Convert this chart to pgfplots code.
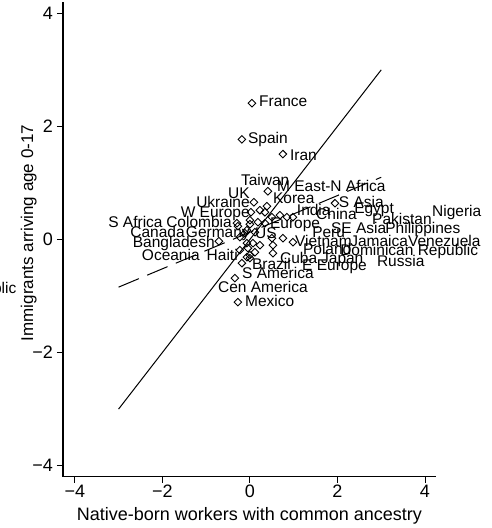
\documentclass[border=0pt]{standalone}
\usepackage{fontspec}
\setmainfont{Liberation Sans}
\usepackage{pgfplots}
\pgfplotsset{compat=1.18}
\newcommand\labfont{\fontsize{15.5}{17}\selectfont}
\newcommand\bigfont{\fontsize{18}{20}\selectfont}
\newcommand\ytfont{\fontsize{17}{19}\selectfont}
\begin{document}
\begin{tikzpicture}
\begin{axis}[
 scale only axis, width=373pt, height=475pt,
 xmin=-4.27, xmax=4.25, ymin=-4.2, ymax=4.2,
 axis x line*=bottom, axis y line*=left,
 axis line style={line width=1.1pt, black},
 xtick={-4,-2,0,2,4}, ytick={-4,-2,0,2,4},
 xticklabels={−4,−2,0,2,4}, yticklabels={−4,−2,0,2,4},
 tick align=outside, major tick length=6pt,
 every tick/.style={black, line width=0.9pt},
 ticklabel style={font=\bigfont, inner sep=0pt},
 xticklabel style={anchor=north, yshift=-2pt},
 yticklabel style={anchor=east, xshift=-4pt},
 xlabel={Native-born workers with common ancestry},
 ylabel={Immigrants arriving age 0-17},
 every axis x label/.style={at={(axis description cs:0.5,0)}, anchor=base, yshift=-44pt, font=\bigfont},
 every axis y label/.style={at={(axis description cs:-0.0804,0.5137)}, rotate=90, anchor=base, font=\ytfont},
 clip=false,
]
\addplot[black, line width=1pt] coordinates {(-3,-3) (3,3)};
\addplot[black, line width=1pt, dash pattern=on 22pt off 9pt] coordinates {(-3,-0.843) (3,1.10)};
\addplot[only marks, mark=square, mark size=2.7pt, mark options={rotate=45, line width=0.9pt, black}] table {
x y
0.046 2.41
-0.183 1.77
0.754 1.51
0.411 0.853
0.091 0.659
0.389 0.588
0.023 0.482
0.229 0.517
0.503 0.394
0.686 0.429
0.846 0.394
0.0 0.341
0.183 0.306
0.343 0.288
-0.297 0.288
1.943 0.641
0.983 0.394
-0.069 0.164
0.114 0.129
-0.709 -0.032
-0.229 0.041
-0.069 -0.065
0.069 -0.065
0.229 -0.101
-0.046 -0.154
0.114 -0.225
-0.229 -0.189
0.0 -0.277
0.526 -0.101
0.526 -0.242
0.754 0.023
0.983 -0.048
-0.183 -0.419
0.0 -0.330
-0.343 -0.684
-0.274 -1.108
-0.274 0.235
0.0 0.270
0.343 0.482
-0.114 0.111
0.503 0.023
-0.069 -0.313
};
\addplot[only marks, mark=none, nodes near coords, point meta=explicit symbolic,
 every node near coord/.append style={anchor=base west, inner sep=0pt, font=\labfont}]
 table[col sep=comma, meta=label] {
x,y,label
0.206,2.355,France
-0.046,1.70,Spain
0.914,1.40,Iran
-0.206,0.96,Taiwan
-0.503,0.73,UK
0.617,0.855,M East-N Africa
0.526,0.64,Korea
2.03,0.57,S Asia
1.07,0.43,India
2.38,0.465,Egypt
1.51,0.36,China
4.16,0.41,Nigeria
2.79,0.27,Pakistan
0.457,0.20,Europe
1.85,0.11,SE Asia
3.09,0.11,Philippines
1.42,0.04,Peru
1.03,-0.12,Vietnam
2.29,-0.12,Jamaica
3.61,-0.12,Venezuela
1.21,-0.26,Poland
2.06,-0.28,Dominican Republic
0.686,-0.42,Cuba
1.623,-0.42,Japan
2.90,-0.47,Russia
0.046,-0.53,Brazil
1.19,-0.545,E Europe
-0.18,-0.685,S America
-0.73,-0.93,Cen America
-0.114,-1.18,Mexico
0.114,0.023,US
};
\addplot[only marks, mark=none, nodes near coords, point meta=explicit symbolic,
 every node near coord/.append style={anchor=base east, inner sep=0pt, font=\labfont}]
 table[col sep=comma, meta=label] {
x,y,label
0,0.57,Ukraine
0,0.394,W Europe
-1.99,0.217,S Africa
-0.41,0.217,Colombia
-1.486,0.04,Canada
0,0.04,Germany
-0.80,-0.136,Bangladesh
-1.143,-0.366,Oceania
-0.274,-0.366,Haiti
};
\addplot[only marks, mark=none, nodes near coords, point meta=explicit symbolic,
 every node near coord/.append style={anchor=base east, inner sep=0pt, font=\labfont, overlay}]
 table[col sep=comma, meta=label] {
x,y,label
-5.33,-0.95,Czech Republic
};
\end{axis}
\path (current axis.south west) ++(-63pt,-51pt) rectangle ++(492pt,528pt);
\end{tikzpicture}
\end{document}
